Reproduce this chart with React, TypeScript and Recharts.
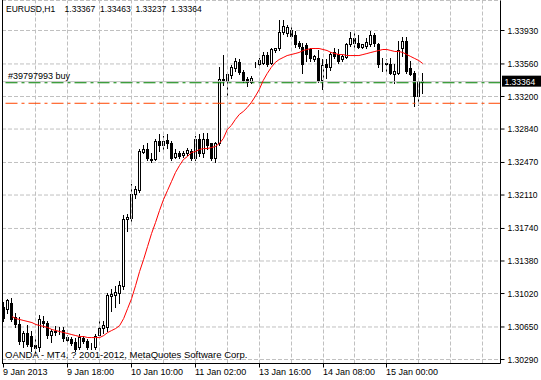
import { ComposedChart, Bar, Line, XAxis, YAxis, CartesianGrid, ReferenceLine } from 'recharts';

const FONT = "'Liberation Sans', Arial, sans-serif";

// EURUSD H1 bars
const opens = [
  1.30876, 1.30854, 1.3091, 1.30765, 1.30688, 1.305, 1.30588, 1.30555, 1.30456, 1.30434,
  1.30721, 1.30699, 1.30566, 1.30611, 1.30611, 1.30622, 1.30544, 1.30522, 1.30489, 1.30434,
  1.30533, 1.305, 1.30445, 1.30434, 1.30566, 1.30644, 1.30655, 1.30998, 1.31009, 1.31031,
  1.31098, 1.3185, 1.31861, 1.32126, 1.32171, 1.32591, 1.32624, 1.32503, 1.32503, 1.32713,
  1.32658, 1.32724, 1.32691, 1.32536, 1.3258, 1.32558, 1.3258, 1.32602, 1.32514, 1.32735,
  1.3257, 1.32735, 1.3268, 1.32514, 1.3268, 1.33377, 1.33366, 1.33443, 1.3351, 1.33587,
  1.33476, 1.33388, 1.33355, 1.33554, 1.33565, 1.33576, 1.33664, 1.33576, 1.33709, 1.33731,
  1.33908, 1.33897, 1.33941, 1.33875, 1.33797, 1.33753, 1.33775, 1.3372, 1.3362, 1.33631,
  1.33377, 1.33565, 1.33521, 1.33687, 1.33675, 1.3362, 1.33642, 1.33786, 1.33842, 1.33797,
  1.33753, 1.33764, 1.33786, 1.33875, 1.33786, 1.33565, 1.33576, 1.33565, 1.33454, 1.33465,
  1.33731, 1.33819, 1.3351, 1.33465, 1.332, 1.33367,
];
const highs = [
  1.30921, 1.30965, 1.30976, 1.3081, 1.30765, 1.30611, 1.30677, 1.30611, 1.30522, 1.30788,
  1.30777, 1.30721, 1.30633, 1.30666, 1.30655, 1.30655, 1.30566, 1.30544, 1.30533, 1.30577,
  1.30555, 1.30522, 1.30478, 1.30577, 1.30743, 1.30721, 1.31031, 1.31075, 1.31098, 1.31164,
  1.31894, 1.31905, 1.32237, 1.32215, 1.32624, 1.32658, 1.3268, 1.3257, 1.32735, 1.3279,
  1.32768, 1.3279, 1.32713, 1.32624, 1.32602, 1.32602, 1.32635, 1.32624, 1.32768, 1.3279,
  1.32801, 1.32801, 1.32691, 1.32702, 1.33521, 1.33664, 1.33465, 1.33543, 1.33631, 1.3362,
  1.33498, 1.33421, 1.33432, 1.33587, 1.33631, 1.33687, 1.33687, 1.33742, 1.33742, 1.34041,
  1.34041, 1.33996, 1.34007, 1.3393, 1.33819, 1.33797, 1.33797, 1.33742, 1.33664, 1.33709,
  1.3362, 1.3362, 1.33687, 1.33742, 1.3372, 1.33664, 1.33797, 1.33908, 1.33908, 1.33875,
  1.33786, 1.33842, 1.3393, 1.33897, 1.33797, 1.33631, 1.3362, 1.33631, 1.33565, 1.33819,
  1.33853, 1.33853, 1.33598, 1.33487, 1.3341, 1.33463,
];
const lows = [
  1.30721, 1.3081, 1.30721, 1.30655, 1.30467, 1.30434, 1.30445, 1.30389, 1.30367, 1.30389,
  1.30655, 1.30533, 1.30489, 1.30566, 1.30577, 1.305, 1.305, 1.30456, 1.30389, 1.30411,
  1.30478, 1.30411, 1.30411, 1.30411, 1.30533, 1.30588, 1.30611, 1.30832, 1.30876, 1.3091,
  1.31075, 1.31717, 1.31795, 1.32082, 1.32138, 1.3257, 1.32492, 1.3247, 1.32492, 1.32602,
  1.32602, 1.32635, 1.32492, 1.32514, 1.32525, 1.32536, 1.32558, 1.32492, 1.32492, 1.32547,
  1.32536, 1.32624, 1.32492, 1.3247, 1.32658, 1.33332, 1.33189, 1.3341, 1.33487, 1.33454,
  1.33355, 1.33321, 1.33344, 1.33521, 1.33532, 1.33554, 1.33532, 1.33554, 1.33687, 1.33709,
  1.33886, 1.33864, 1.33842, 1.33753, 1.33742, 1.33465, 1.33598, 1.33598, 1.33598, 1.33355,
  1.33288, 1.3341, 1.33498, 1.33631, 1.33576, 1.33598, 1.33631, 1.33764, 1.33709, 1.33731,
  1.33742, 1.33742, 1.33764, 1.33764, 1.33521, 1.33487, 1.33454, 1.33454, 1.33344, 1.33454,
  1.33653, 1.33465, 1.33443, 1.331, 1.33111, 1.33237,
];
const closes = [
  1.30754, 1.30943, 1.30743, 1.30688, 1.305, 1.30588, 1.30467, 1.30445, 1.30423, 1.30743,
  1.30699, 1.30566, 1.30611, 1.30599, 1.30605, 1.30533, 1.30511, 1.30478, 1.30411, 1.30544,
  1.305, 1.30434, 1.30441, 1.30555, 1.30644, 1.30677, 1.31009, 1.3102, 1.31042, 1.3112,
  1.3185, 1.31872, 1.32126, 1.32182, 1.32602, 1.32624, 1.32525, 1.325, 1.32713, 1.32658,
  1.32713, 1.3268, 1.32514, 1.3258, 1.32547, 1.3258, 1.32613, 1.32514, 1.32735, 1.3257,
  1.32735, 1.32658, 1.32514, 1.3268, 1.33399, 1.33399, 1.33454, 1.33521, 1.33598, 1.33476,
  1.33377, 1.33355, 1.3341, 1.33565, 1.33609, 1.33664, 1.33554, 1.3372, 1.33731, 1.33908,
  1.33985, 1.33974, 1.33864, 1.33786, 1.33764, 1.33565, 1.33675, 1.33631, 1.33653, 1.33377,
  1.33543, 1.33521, 1.33675, 1.33653, 1.33598, 1.33653, 1.33786, 1.33842, 1.33797, 1.33753,
  1.33786, 1.33808, 1.33875, 1.33797, 1.33565, 1.33562, 1.33554, 1.33465, 1.33487, 1.33709,
  1.33819, 1.33487, 1.33454, 1.332, 1.33366, 1.33364,
];
// red moving average
const maValues: (number | null)[] = [
  null, null, 1.30765, 1.30743, 1.30732, 1.30721, 1.3071, 1.30699, 1.30677, 1.30666,
  1.30655, 1.30644, 1.30622, 1.30611, 1.30599, 1.30588, 1.30577, 1.30566, 1.30555, 1.30544,
  1.30544, 1.30533, 1.30533, 1.30533, 1.30533, 1.30555, 1.30588, 1.30611, 1.30633, 1.30666,
  1.30743, 1.30854, 1.30965, 1.31109, 1.31264, 1.31396, 1.3154, 1.31684, 1.31806, 1.31939,
  1.3206, 1.3216, 1.32259, 1.32359, 1.32436, 1.32503, 1.32536, 1.3258, 1.32591, 1.32613,
  1.32624, 1.32624, 1.32635, 1.32647, 1.3268, 1.32735, 1.32835, 1.32879, 1.32945, 1.33001,
  1.33034, 1.33078, 1.33133, 1.332, 1.33277, 1.33377, 1.33454, 1.33521, 1.33576, 1.33609,
  1.33631, 1.33653, 1.33664, 1.33675, 1.33687, 1.33709, 1.3372, 1.33731, 1.33731, 1.33731,
  1.3372, 1.33709, 1.33687, 1.33675, 1.33664, 1.33664, 1.33653, 1.33653, 1.33653, 1.33653,
  1.33664, 1.33675, 1.33687, 1.33698, 1.33709, 1.3372, 1.3372, 1.33709, 1.33698, 1.33698,
  1.33687, 1.33664, 1.33642, 1.3362, 1.33598, 1.33565,
];

const timeTicks = [0, 16, 32, 48, 64, 80, 96];
const timeLabels = ['9 Jan 2013', '9 Jan 18:00', '10 Jan 10:00', '11 Jan 02:00', '13 Jan 16:00', '14 Jan 08:00', '15 Jan 00:00'];
const priceTicks = [1.3029, 1.3065, 1.3102, 1.3138, 1.3174, 1.3211, 1.3247, 1.3284, 1.332, 1.3356, 1.3393];
const gridBars = [8, 16, 24, 32, 40, 48, 56, 64, 72, 80, 88, 96, 104, 112, 120];

const bidPrice = 1.33364;
const orderPrice = 1.33352;
const stopPrice = 1.33125;
const slots = 125; // bars plus the empty shift on the right

const rows = Array.from({ length: slots }, (_, i) =>
  i < opens.length
    ? { i, o: opens[i], h: highs[i], l: lows[i], c: closes[i], range: [lows[i], highs[i]], ma: maValues[i] }
    : { i }
);

function Candle(props: any) {
  const { x, y, width, height, payload } = props;
  if (!payload || payload.o == null) return null;
  const { o, h, l, c } = payload;
  const top = Math.min(y, y + height);
  const span = Math.abs(height);
  const toY = (v: number) => top + ((h - v) / (h - l)) * span;
  const px = Math.floor(x + width / 2) + 0.5;
  const yh = Math.round(top);
  const yl = Math.round(top + span) + 1;
  const yo = Math.round(toY(o));
  const yc = Math.round(toY(c));
  const b0 = Math.min(yo, yc) + 0.5;
  const b1 = Math.max(yo, yc) + 0.5;
  return (
    <g>
      <line x1={px} x2={px} y1={yh} y2={yl} stroke="#000" strokeWidth={1} />
      <rect x={px - 1} y={b0} width={2} height={b1 - b0} fill={c >= o ? '#fff' : '#000'} stroke="#000" strokeWidth={1} />
    </g>
  );
}

function TimeTick(props: any) {
  const { x, y, payload } = props;
  const idx = timeTicks.indexOf(payload.value);
  const px = Math.floor(x) + 0.5;
  return (
    <g>
      <line x1={px} x2={px} y1={y} y2={y + 4} stroke="#000" />
      <text x={px - 0.5} y={y + 11.5} fontSize={9} fontFamily={FONT} fill="#000">
        {timeLabels[idx]}
      </text>
    </g>
  );
}

const gridLine = (p: any) => {
  const gx = Math.floor(p.x1) + 0.5;
  return <line x1={gx} x2={gx} y1={p.y1} y2={p.y2} stroke="#c0c0c0" strokeDasharray="4 2" />;
};

export default function App() {
  return (
    <div style={{ position: 'relative', width: 541, height: 380, background: '#fff' }}>
      <style>{'body{margin:0}'}</style>
      <ComposedChart width={541} height={380} data={rows} margin={{ top: 0.5, right: 0, bottom: 0, left: 2 }}>
        <CartesianGrid vertical={false} stroke="#c0c0c0" strokeDasharray="4 2" />
        {gridBars.map((b) => (
          <ReferenceLine key={b} x={b} shape={gridLine} />
        ))}
        <XAxis
          dataKey="i"
          type="category"
          ticks={timeTicks}
          interval={0}
          height={16.5}
          tickSize={0}
          tickMargin={0}
          tickLine={false}
          axisLine={{ stroke: '#000' }}
          tick={<TimeTick />}
        />
        <YAxis
          orientation="right"
          width={40.5}
          domain={[1.30246, 1.34262]}
          allowDataOverflow
          ticks={priceTicks}
          interval={0}
          tickFormatter={(v: number) => v.toFixed(5)}
          tick={{ fontSize: 8.5, fill: '#000', fontFamily: FONT }}
          tickSize={4}
          tickMargin={3}
          tickLine={{ stroke: '#000' }}
          axisLine={{ stroke: '#000' }}
        />
        <ReferenceLine
          y={stopPrice}
          stroke="#ff4500"
          strokeDasharray="12 4 3 4"
        />
        <ReferenceLine
          y={bidPrice}
          stroke="#c0c0c0"
          label={(p: any) => {
            const vb = p.viewBox;
            const right = vb.x + vb.width;
            return (
              <g>
                <rect x={right + 1.5} y={vb.y - 6} width={45} height={11} fill="#000" />
                <text x={right + 4} y={vb.y + 3.5} fontSize={8.5} fontFamily={FONT} fill="#fff">
                  {bidPrice.toFixed(5)}
                </text>
              </g>
            );
          }}
        />
        <ReferenceLine
          y={orderPrice}
          stroke="#008000"
          strokeDasharray="12 4 3 4"
          label={(p: any) => (
            <text x={p.viewBox.x + 6} y={p.viewBox.y - 3.5} fontSize={9} fontFamily={FONT} fill="#000">
              #39797993 buy
            </text>
          )}
        />
        <Bar dataKey="range" shape={Candle} isAnimationActive={false} />
        <Line dataKey="ma" stroke="#ff0000" strokeWidth={1} dot={false} activeDot={false} isAnimationActive={false} />
      </ComposedChart>
      <svg width={541} height={380} style={{ position: 'absolute', left: 0, top: 0, pointerEvents: 'none' }}>
        <line x1={2.5} x2={2.5} y1={0} y2={363.5} stroke="#000" />
        <text x={6} y={12} fontSize={8.5} fontFamily={FONT} fill="#000" style={{ whiteSpace: 'pre' }}>
          {'EURUSD,H1    1.33367  1.33463  1.33237  1.33364'}
        </text>
        <text x={5} y={358} fontSize={9.5} fontFamily={FONT} fill="#000">
          OANDA - MT4, ? 2001-2012, MetaQuotes Software Corp.
        </text>
      </svg>
    </div>
  );
}
